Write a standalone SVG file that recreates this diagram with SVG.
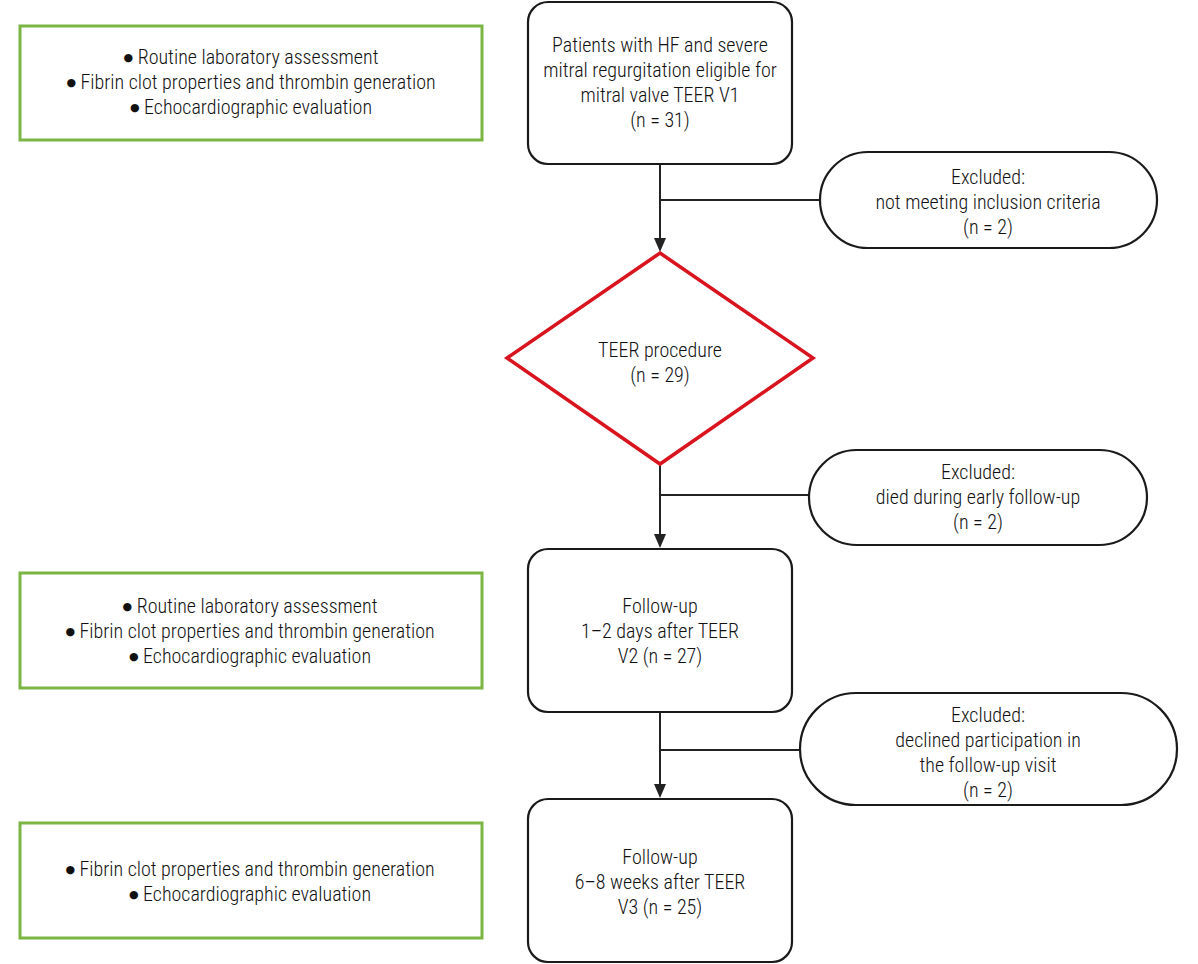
<svg xmlns="http://www.w3.org/2000/svg" width="1198" height="964" viewBox="0 0 1198 964">
<defs>
<style>
text{font-family:"Liberation Sans Narrow","Roboto Condensed","Liberation Sans",sans-serif;font-size:20px;font-weight:300;fill:#111;text-anchor:middle}
.b{font-family:"DejaVu Sans",sans-serif;font-size:11px;font-weight:400}
.box{fill:#fff;stroke:#1a1a1a;stroke-width:2.2}
.green{fill:#fff;stroke:#7bb543;stroke-width:3}
.dia{fill:#fff;stroke:#d9141e;stroke-width:3.5}
.ln{fill:none;stroke:#222;stroke-width:2}
.ah{fill:#222}
</style>
</defs>
<rect width="1198" height="964" fill="#fff"/>
<g id="connectors">
<line class="ln" x1="660" y1="164" x2="660" y2="240"/>
<path class="ah" d="M654,238 L666,238 L660,252 Z"/>
<line class="ln" x1="660" y1="200" x2="820" y2="200"/>
<line class="ln" x1="660" y1="464" x2="660" y2="536"/>
<path class="ah" d="M654,534 L666,534 L660,548 Z"/>
<line class="ln" x1="660" y1="495" x2="809" y2="495"/>
<line class="ln" x1="660" y1="712" x2="660" y2="786"/>
<path class="ah" d="M654,784 L666,784 L660,798 Z"/>
<line class="ln" x1="660" y1="750" x2="800" y2="750"/>
</g>
<g id="n-assess1">
<rect class="green" x="20" y="26" width="462" height="114"/>
<text x="251" y="64"><tspan class="b" dy="-3">●</tspan><tspan dy="3"> Routine laboratory assessment</tspan></text>
<text x="251" y="89"><tspan class="b" dy="-3">●</tspan><tspan dy="3"> Fibrin clot properties and thrombin generation</tspan></text>
<text x="251" y="114"><tspan class="b" dy="-3">●</tspan><tspan dy="3"> Echocardiographic evaluation</tspan></text>
</g>
<g id="n-v1">
<rect class="box" x="528" y="2" width="264" height="162" rx="20"/>
<text x="660" y="52">Patients with HF and severe</text>
<text x="660" y="77">mitral regurgitation eligible for</text>
<text x="660" y="102">mitral valve TEER V1</text>
<text x="660" y="127">(n = 31)</text>
</g>
<g id="n-excl1">
<rect class="box" x="820" y="152" width="337" height="96" rx="48"/>
<text x="988" y="184">Excluded:</text>
<text x="988" y="209">not meeting inclusion criteria</text>
<text x="988" y="234">(n = 2)</text>
</g>
<g id="n-teer">
<polygon class="dia" points="660,253 813,358 660,464 507,358"/>
<text x="660" y="357">TEER procedure</text>
<text x="660" y="382">(n = 29)</text>
</g>
<g id="n-excl2">
<rect class="box" x="809" y="450" width="338" height="95" rx="47.5"/>
<text x="978" y="479">Excluded:</text>
<text x="978" y="504">died during early follow-up</text>
<text x="978" y="529">(n = 2)</text>
</g>
<g id="n-assess2">
<rect class="green" x="20" y="573" width="462" height="115"/>
<text x="250" y="613"><tspan class="b" dy="-3">●</tspan><tspan dy="3"> Routine laboratory assessment</tspan></text>
<text x="250" y="638"><tspan class="b" dy="-3">●</tspan><tspan dy="3"> Fibrin clot properties and thrombin generation</tspan></text>
<text x="250" y="663"><tspan class="b" dy="-3">●</tspan><tspan dy="3"> Echocardiographic evaluation</tspan></text>
</g>
<g id="n-v2">
<rect class="box" x="528" y="549" width="264" height="163" rx="20"/>
<text x="660" y="613">Follow-up</text>
<text x="660" y="638">1–2 days after TEER</text>
<text x="660" y="663">V2 (n = 27)</text>
</g>
<g id="n-excl3">
<rect class="box" x="800" y="693" width="377" height="112" rx="56"/>
<text x="988" y="722">Excluded:</text>
<text x="988" y="747">declined participation in</text>
<text x="988" y="772">the follow-up visit</text>
<text x="988" y="797">(n = 2)</text>
</g>
<g id="n-assess3">
<rect class="green" x="20" y="823" width="462" height="115"/>
<text x="250" y="876"><tspan class="b" dy="-3">●</tspan><tspan dy="3"> Fibrin clot properties and thrombin generation</tspan></text>
<text x="250" y="901"><tspan class="b" dy="-3">●</tspan><tspan dy="3"> Echocardiographic evaluation</tspan></text>
</g>
<g id="n-v3">
<rect class="box" x="528" y="799" width="264" height="163" rx="20"/>
<text x="660" y="864">Follow-up</text>
<text x="660" y="889">6–8 weeks after TEER</text>
<text x="660" y="914">V3 (n = 25)</text>
</g>
</svg>
